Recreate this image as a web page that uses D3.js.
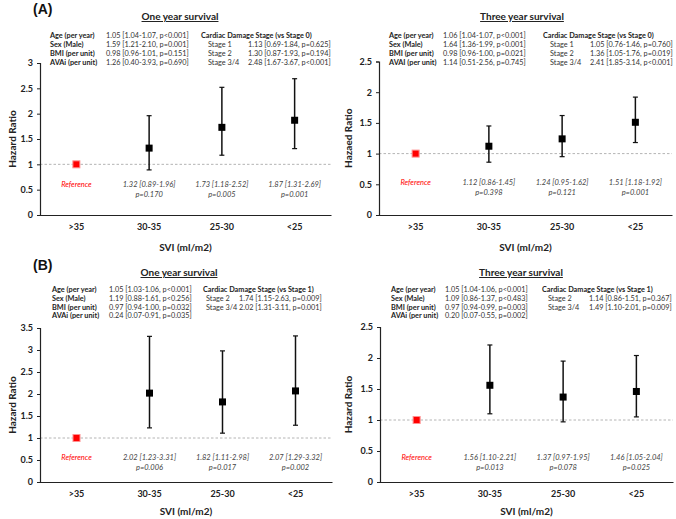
<!DOCTYPE html>
<html><head><meta charset="utf-8">
<script src="https://cdn.jsdelivr.net/npm/d3@7"></script>
<style>
html,body{margin:0;padding:0;background:#fff;}
svg{display:block;font-family:Lato,"Open Sans",sans-serif;}
</style></head>
<body><svg id="c" width="676" height="519"></svg>
<script>
// ---------- DATA ----------
const categories = [">35", "30-35", "25-30", "<25"];

const a1HR = [1.00, 1.32, 1.73, 1.87];
const a1Lo = [null, 0.89, 1.18, 1.31];
const a1Hi = [null, 1.96, 2.52, 2.69];
const a1Est = ["Reference", "1.32 [0.89-1.96]", "1.73 [1.18-2.52]", "1.87 [1.31-2.69]"];
const a1P = ["", "p=0.170", "p=0.005", "p=0.001"];
const a1Ticks = [0, 0.5, 1, 1.5, 2, 2.5, 3];

const a2HR = [1.00, 1.12, 1.24, 1.51];
const a2Lo = [null, 0.86, 0.95, 1.18];
const a2Hi = [null, 1.45, 1.62, 1.92];
const a2Est = ["Reference", "1.12 [0.86-1.45]", "1.24 [0.95-1.62]", "1.51 [1.18-1.92]"];
const a2P = ["", "p=0.398", "p=0.121", "p=0.001"];
const a2Ticks = [0, 0.5, 1, 1.5, 2, 2.5];

const b1HR = [1.00, 2.02, 1.82, 2.07];
const b1Lo = [null, 1.23, 1.11, 1.29];
const b1Hi = [null, 3.31, 2.98, 3.32];
const b1Est = ["Reference", "2.02 [1.23-3.31]", "1.82 [1.11-2.98]", "2.07 [1.29-3.32]"];
const b1P = ["", "p=0.006", "p=0.017", "p=0.002"];
const b1Ticks = [0, 0.5, 1, 1.5, 2, 2.5, 3, 3.5];

const b2HR = [1.00, 1.56, 1.37, 1.46];
const b2Lo = [null, 1.10, 0.97, 1.05];
const b2Hi = [null, 2.21, 1.95, 2.04];
const b2Est = ["Reference", "1.56 [1.10-2.21]", "1.37 [0.97-1.95]", "1.46 [1.05-2.04]"];
const b2P = ["", "p=0.013", "p=0.078", "p=0.025"];
const b2Ticks = [0, 0.5, 1, 1.5, 2, 2.5];

const a1CovLabels = ["Age (per year)", "Sex (Male)", "BMI (per unit)", "AVAi (per unit)"];
const a1CovValues = ["1.05 [1.04-1.07, p<0.001]", "1.59 [1.21-2.10, p=0.001]", "0.98 [0.96-1.01, p=0.151]", "1.26 [0.40-3.93, p=0.690]"];
const a1StageHeader = "Cardiac Damage Stage (vs Stage 0)";
const a1StageLabels = ["Stage 1", "Stage 2", "Stage 3/4"];
const a1StageValues = ["1.13 [0.69-1.84, p=0.625]", "1.30 [0.87-1.93, p=0.194]", "2.48 [1.67-3.67, p<0.001]"];

const a2CovLabels = ["Age (per year)", "Sex (Male)", "BMI (per unit)", "AVAI (per unit)"];
const a2CovValues = ["1.06 [1.04-1.07, p<0.001]", "1.64 [1.36-1.99, p<0.001]", "0.98 [0.96-1.00, p=0.021]", "1.14 [0.51-2.56, p=0.745]"];
const a2StageHeader = "Cardiac Damage Stage (vs Stage 0)";
const a2StageLabels = ["Stage 1", "Stage 2", "Stage 3/4"];
const a2StageValues = ["1.05 [0.76-1.46, p=0.760]", "1.36 [1.05-1.76, p=0.019]", "2.41 [1.85-3.14, p<0.001]"];

const b1CovLabels = ["Age (per year)", "Sex (Male)", "BMI (per unit)", "AVAi (per unit)"];
const b1CovValues = ["1.05 [1.03-1.06, p<0.001]", "1.19 [0.88-1.61, p<0.256]", "0.97 [0.94-1.00, p=0.032]", "0.24 [0.07-0.91, p=0.035]"];
const b1StageHeader = "Cardiac Damage Stage (vs Stage 1)";
const b1StageLabels = ["Stage 2", "Stage 3/4"];
const b1StageValues = ["1.74 [1.15-2.63, p=0.009]", "2.02 [1.31-3.11, p=0.001]"];

const b2CovLabels = ["Age (per year)", "Sex (Male)", "BMI (per unit)", "AVAi (per unit)"];
const b2CovValues = ["1.05 [1.04-1.06, p<0.001]", "1.09 [0.86-1.37, p<0.483]", "0.97 [0.94-0.99, p=0.003]", "0.20 [0.07-0.55, p=0.002]"];
const b2StageHeader = "Cardiac Damage Stage (vs Stage 1)";
const b2StageLabels = ["Stage 2", "Stage 3/4"];
const b2StageValues = ["1.14 [0.86-1.51, p=0.367]", "1.49 [1.10-2.01, p=0.009]"];

// ---------- DRAW ----------
const svg = d3.select("#c");
const TF = 7.3; // table font size

function panel(o) {
  const g = svg.append("g");
  const x = d3.scaleBand().domain(categories).range([o.x0, o.x1]).padding(0);
  const y = d3.scaleLinear().domain([0, d3.max(o.ticks)]).range([o.y0, o.yTop]);

  if (o.letter) g.append("text").attr("x", o.letterX).attr("y", o.letterY)
    .attr("font-family", "Liberation Sans, Arial, sans-serif").attr("font-weight", "bold")
    .attr("font-size", 14).attr("fill", "#111").text(o.letter);

  g.append("text").attr("x", o.titleX).attr("y", o.titleY).attr("text-anchor", "middle")
    .attr("font-weight", "bold").attr("font-size", 10).attr("fill", "#222")
    .style("text-decoration", "underline").text(o.title);

  const rows = o.rowY;
  o.covLabels.forEach((t, i) => {
    g.append("text").attr("x", o.cLab).attr("y", rows[i]).attr("font-size", TF)
      .attr("font-weight", "bold").attr("fill", "#222").text(t);
    g.append("text").attr("x", o.cVal).attr("y", rows[i]).attr("font-size", TF)
      .attr("fill", "#333").text(o.covValues[i]);
  });
  g.append("text").attr("x", o.sHead).attr("y", rows[0]).attr("font-size", TF)
    .attr("font-weight", "bold").attr("fill", "#222").text(o.stageHeader);
  o.stageLabels.forEach((t, i) => {
    g.append("text").attr("x", o.sLab).attr("y", rows[i + 1]).attr("font-size", TF)
      .attr("fill", "#333").text(t);
    g.append("text").attr("x", o.sVal).attr("y", rows[i + 1]).attr("font-size", TF)
      .attr("fill", "#333").text(o.stageValues[i]);
  });

  g.append("line").attr("x1", o.x0).attr("x2", o.x1).attr("y1", y(1)).attr("y2", y(1))
    .attr("stroke", "#b4b4b4").attr("stroke-width", 1).attr("stroke-dasharray", "2.5,2");

  const ya = g.append("g").attr("transform", `translate(${o.x0},0)`)
    .call(d3.axisLeft(y).tickValues(o.ticks).tickSize(3).tickPadding(4).tickFormat(d3.format("")));
  ya.select(".domain").attr("stroke", "#222").attr("stroke-width", 1.2);
  ya.selectAll(".tick line").attr("stroke", "#222");
  ya.selectAll(".tick text").attr("font-size", 9).attr("font-weight", "bold")
    .attr("font-family", "Lato, sans-serif").attr("fill", "#222");

  const xa = g.append("g").attr("transform", `translate(0,${o.y0})`)
    .call(d3.axisBottom(x).tickSize(0).tickPadding(9).tickSizeOuter(0));
  xa.select(".domain").attr("stroke", "#222").attr("stroke-width", 1.2);
  xa.selectAll(".tick text").attr("font-size", 9).attr("font-weight", "bold")
    .attr("font-family", "Lato, sans-serif").attr("fill", "#222");

  g.append("text").attr("x", (o.x0 + o.x1) / 2).attr("y", o.xTitleY).attr("text-anchor", "middle")
    .attr("font-weight", "bold").attr("font-size", 10).attr("fill", "#222").text("SVI (ml/m2)");
  g.append("text").attr("transform", `translate(${o.yTitleX},${(o.y0 + o.yTop) / 2}) rotate(-90)`)
    .attr("text-anchor", "middle").attr("font-weight", "bold").attr("font-size", 10)
    .attr("fill", "#222").text(o.yTitle);

  const cx = d => x(d) + x.bandwidth() / 2;
  categories.forEach((c, i) => {
    if (o.lo[i] == null) return;
    g.append("line").attr("x1", cx(c)).attr("x2", cx(c)).attr("y1", y(o.lo[i])).attr("y2", y(o.hi[i]))
      .attr("stroke", "#111").attr("stroke-width", 1.5);
    [o.lo[i], o.hi[i]].forEach(v => g.append("line").attr("x1", cx(c) - 2.5).attr("x2", cx(c) + 2.5)
      .attr("y1", y(v)).attr("y2", y(v)).attr("stroke", "#111").attr("stroke-width", 1.2));
  });
  categories.forEach((c, i) => {
    const ref = o.lo[i] == null;
    const s = 7;
    g.append("rect").attr("x", cx(c) - s / 2).attr("y", y(o.hr[i]) - s / 2).attr("width", s).attr("height", s)
      .attr("fill", ref ? "#ff0000" : "#000").attr("stroke", ref ? "#ff9090" : "none").attr("stroke-width", 1);
  });

  categories.forEach((c, i) => {
    const ref = o.lo[i] == null;
    g.append("text").attr("x", cx(c)).attr("y", o.annY).attr("text-anchor", "middle")
      .attr("font-size", 7.5).attr("font-style", "italic").attr("fill", ref ? "#ff0000" : "#444").text(o.est[i]);
    if (o.p[i]) g.append("text").attr("x", cx(c)).attr("y", o.annY + 10).attr("text-anchor", "middle")
      .attr("font-size", 7.5).attr("font-style", "italic").attr("fill", "#444").text(o.p[i]);
  });
}

panel({letter: "(A)", letterX: 33, letterY: 14, title: "One year survival", titleX: 180, titleY: 20,
  rowY: [37.5, 46.5, 55.5, 64.5], cLab: 50, cVal: 106, sHead: 201, sLab: 208, sVal: 248,
  covLabels: a1CovLabels, covValues: a1CovValues, stageHeader: a1StageHeader, stageLabels: a1StageLabels, stageValues: a1StageValues,
  x0: 40, x1: 331, y0: 215, yTop: 63, ticks: a1Ticks, hr: a1HR, lo: a1Lo, hi: a1Hi, est: a1Est, p: a1P,
  annY: 186.5, xTitleY: 251, yTitleX: 16, yTitle: "Hazard Ratio"});

panel({letter: null, title: "Three year survival", titleX: 522, titleY: 20,
  rowY: [37.5, 46.5, 55.5, 64.5], cLab: 389, cVal: 443, sHead: 543, sLab: 550, sVal: 590,
  covLabels: a2CovLabels, covValues: a2CovValues, stageHeader: a2StageHeader, stageLabels: a2StageLabels, stageValues: a2StageValues,
  x0: 379, x1: 672, y0: 215, yTop: 61.5, ticks: a2Ticks, hr: a2HR, lo: a2Lo, hi: a2Hi, est: a2Est, p: a2P,
  annY: 184.5, xTitleY: 251, yTitleX: 352, yTitle: "Hazaed Ratio"});

panel({letter: "(B)", letterX: 33, letterY: 270, title: "One year survival", titleX: 179, titleY: 276,
  rowY: [292, 300.8, 309.6, 318.4], cLab: 52, cVal: 109, sHead: 203, sLab: 206, sVal: 239,
  covLabels: b1CovLabels, covValues: b1CovValues, stageHeader: b1StageHeader, stageLabels: b1StageLabels, stageValues: b1StageValues,
  x0: 40, x1: 332, y0: 482, yTop: 328, ticks: b1Ticks, hr: b1HR, lo: b1Lo, hi: b1Hi, est: b1Est, p: b1P,
  annY: 459.5, xTitleY: 515, yTitleX: 16, yTitle: "Hazard Ratio"});

panel({letter: null, title: "Three year survival", titleX: 521, titleY: 276,
  rowY: [292, 300.8, 309.6, 318.4], cLab: 391, cVal: 445, sHead: 542, sLab: 548, sVal: 589,
  covLabels: b2CovLabels, covValues: b2CovValues, stageHeader: b2StageHeader, stageLabels: b2StageLabels, stageValues: b2StageValues,
  x0: 380, x1: 673, y0: 482, yTop: 327, ticks: b2Ticks, hr: b2HR, lo: b2Lo, hi: b2Hi, est: b2Est, p: b2P,
  annY: 459.5, xTitleY: 515, yTitleX: 352, yTitle: "Hazard Ratio"});
</script>
</body></html>
